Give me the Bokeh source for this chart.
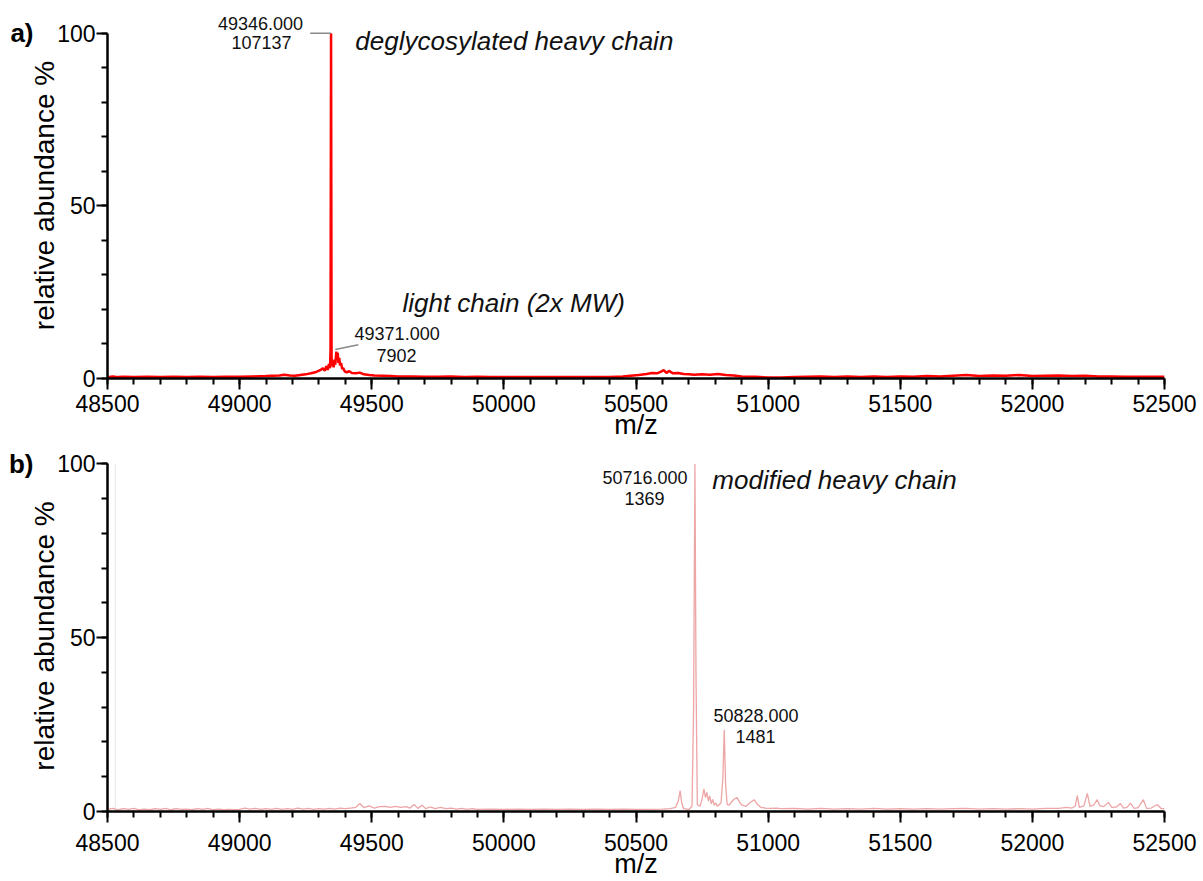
from bokeh.plotting import figure
from bokeh.models import Range1d, SingleIntervalTicker, Label, LinearAxis, FixedTicker
from bokeh.layouts import column
from bokeh.embed import file_html
from bokeh.resources import INLINE

# ---------------- data: panel a (deglycosylated heavy chain) ----------------
mz_a = [48500, 48520, 48540, 48560, 48600, 48650, 48700, 48750, 48800, 48850,
        48900, 48950, 49000, 49050, 49100, 49150, 49170, 49190, 49210, 49230,
        49250, 49270, 49290, 49305, 49315, 49322, 49328, 49333, 49338, 49342,
        49344, 49346, 49348, 49350, 49353, 49356, 49359, 49362, 49366, 49369,
        49371, 49374, 49377, 49380, 49384, 49388, 49392, 49398, 49405, 49415,
        49425, 49440, 49455, 49470, 49490, 49510, 49540, 49570, 49600, 49650,
        49700, 49750, 49800, 49850, 49900, 49950, 50000, 50050, 50100, 50150,
        50200, 50250, 50300, 50350, 50400, 50450, 50480, 50510, 50540, 50560,
        50580, 50595, 50605, 50615, 50625, 50640, 50660, 50680, 50700, 50720,
        50750, 50780, 50810, 50840, 50870, 50900, 50950, 51000, 51050, 51100,
        51150, 51200, 51250, 51300, 51350, 51400, 51450, 51500, 51550, 51600,
        51650, 51700, 51750, 51800, 51850, 51900, 51950, 52000, 52050, 52100,
        52150, 52200, 52250, 52300, 52350, 52400, 52450, 52500]
ab_a = [0.4, 0.6, 0.4, 0.5, 0.4, 0.5, 0.4, 0.5, 0.4, 0.5,
        0.4, 0.5, 0.5, 0.6, 0.7, 0.9, 1.1, 0.9, 0.8, 1.0,
        1.2, 1.5, 1.9, 2.4, 3.0, 2.2, 3.6, 2.5, 4.2, 3.0,
        8.0, 100.0, 6.0, 3.5, 5.0, 3.2, 5.5, 4.0, 7.8, 5.5,
        7.4, 4.5, 6.0, 3.8, 4.5, 2.8, 3.0, 2.0, 1.8, 2.1,
        1.6, 1.5, 1.7, 1.2, 1.0, 0.9, 0.8, 0.7, 0.6, 0.6,
        0.5, 0.5, 0.6, 0.4, 0.5, 0.4, 0.4, 0.4, 0.4, 0.4,
        0.4, 0.4, 0.4, 0.4, 0.4, 0.6, 0.8, 1.0, 1.3, 1.6,
        1.5, 2.0, 2.4, 1.6, 2.2, 1.5, 1.6, 1.3, 1.2, 1.1,
        1.2, 1.1, 1.3, 1.0, 0.9, 0.6, 0.5, 0.3, 0.3, 0.4,
        0.5, 0.6, 0.4, 0.6, 0.4, 0.6, 0.4, 0.6, 0.5, 0.7,
        0.6, 0.8, 1.0, 0.7, 0.9, 0.8, 1.0, 0.7, 0.8, 0.9,
        0.7, 0.8, 0.6, 0.6, 0.5, 0.5, 0.5, 0.5]

# ---------------- data: panel b (modified heavy chain) ----------------
mz_b = [48500, 48520, 48540, 48560, 48580, 48600, 48620, 48640, 48660, 48680,
        48700, 48720, 48740, 48760, 48780, 48800, 48820, 48840, 48860, 48880,
        48900, 48920, 48940, 48960, 48980, 49000, 49020, 49040, 49060, 49080,
        49100, 49120, 49140, 49160, 49180, 49200, 49220, 49240, 49260, 49280,
        49300, 49320, 49340, 49360, 49380, 49400, 49420, 49440, 49455, 49470,
        49490, 49510, 49530, 49550, 49570, 49590, 49610, 49630, 49645, 49660,
        49675, 49690, 49705, 49720, 49740, 49760, 49780, 49800, 49820, 49840,
        49860, 49880, 49900, 49950, 50000, 50050, 50100, 50150, 50200, 50250,
        50300, 50350, 50400, 50450, 50500, 50550, 50600, 50630, 50650, 50660,
        50667, 50673, 50680, 50700, 50712, 50718, 50723, 50727, 50732, 50742,
        50750, 50757, 50763, 50768, 50774, 50779, 50785, 50790, 50796, 50802,
        50808, 50815, 50822, 50829, 50834, 50839, 50845, 50852, 50862, 50872,
        50883, 50892, 50902, 50917, 50932, 50947, 50960, 50972, 50990, 51010,
        51030, 51050, 51100, 51150, 51200, 51250, 51300, 51350, 51400, 51450,
        51500, 51550, 51600, 51650, 51700, 51750, 51800, 51850, 51900, 51950,
        52000, 52050, 52100, 52130, 52150, 52162, 52170, 52178, 52195, 52208,
        52218, 52232, 52245, 52255, 52270, 52288, 52300, 52318, 52333, 52345,
        52358, 52371, 52385, 52400, 52420, 52432, 52450, 52473, 52488, 52500]
ab_b = [0.6, 0.9, 0.5, 0.8, 0.6, 0.9, 0.5, 0.7, 0.5, 0.8,
        0.6, 0.9, 0.5, 0.8, 0.6, 0.7, 0.5, 0.8, 0.6, 0.9,
        0.5, 0.7, 0.5, 0.6, 0.5, 0.6, 1.0, 0.7, 0.9, 0.6,
        0.8, 0.6, 0.9, 0.6, 0.8, 0.6, 1.0, 0.7, 0.9, 0.6,
        0.8, 0.7, 0.9, 0.7, 1.0, 0.8, 1.0, 1.2, 2.3, 1.1,
        1.6, 1.0, 1.4, 1.5, 1.2, 1.5, 1.2, 1.4, 1.0, 2.0,
        0.9, 1.8, 0.8, 1.3, 0.8, 1.2, 0.8, 1.0, 0.7, 0.9,
        0.6, 0.8, 0.6, 0.7, 0.6, 0.7, 0.6, 0.7, 0.6, 0.7,
        0.6, 0.7, 0.6, 0.7, 0.6, 0.6, 0.7, 0.8, 1.2, 3.0,
        6.0, 2.5, 0.8, 0.6, 1.5, 30.0, 100.0, 40.0, 2.0, 1.5,
        3.5, 6.5, 4.0, 5.5, 3.0, 4.5, 2.2, 3.5, 1.8, 2.5,
        1.5, 2.0, 2.5, 10.0, 23.5, 8.0, 2.0, 1.8, 2.8, 3.6,
        4.0, 2.6, 1.8, 1.5, 2.6, 3.4, 2.0, 1.2, 1.0, 0.9,
        1.0, 0.8, 0.9, 0.7, 0.9, 0.7, 0.8, 0.7, 0.9, 0.7,
        0.8, 0.7, 0.8, 0.7, 0.8, 0.9, 0.7, 0.8, 0.7, 0.8,
        0.7, 0.9, 0.9, 1.2, 1.0, 1.5, 4.6, 1.2, 1.6, 5.2,
        1.5, 1.8, 3.4, 1.7, 1.4, 2.6, 1.2, 1.3, 2.3, 1.0,
        1.2, 2.4, 0.9, 1.1, 3.4, 0.9, 1.0, 2.0, 0.8, 0.8]

# faint vertical trace at the left edge of panel b (scan artefact)
artefact_mz = [48530]
artefact_ab = [100]

# peak annotations: (text, m/z anchor, abundance anchor)
labels_a = [("49346.000", 49079, 102.8), ("107137", 49083, 97.25),
            ("49371.000", 49596, 13.0), ("7902", 49594, 6.66)]
labels_b = [("50716.000", 50534, 96.1), ("1369", 50532, 90.1),
            ("50828.000", 50954, 27.6), ("1481", 50952, 21.6)]
# leader lines in panel a: (mz0, ab0, mz1, ab1)
leaders_a = [(49267, 100, 49346, 100), (49362, 8.4, 49449, 9.8)]
# italic captions: (text, m/z left, abundance)
captions_a = [("deglycosylated heavy chain", 49438, 97.8),
              ("light chain (2x MW)", 49616, 22.0)]
captions_b = [("modified heavy chain", 50789, 95.5)]
panel_tags = ["a)", "b)"]

x_ticks_interval = 500
y_ticks_interval = 50
FONT = "Liberation Sans"


def make_fig(height, top, bottom, ymax, label_standoff, title_standoff, tag):
    p = figure(width=1203, height=height, output_backend="svg",
               toolbar_location=None,
               x_range=Range1d(48500, 52500), y_range=Range1d(0, ymax),
               min_border_left=107, min_border_right=39,
               min_border_top=top, min_border_bottom=bottom)
    p.outline_line_color = None
    p.xgrid.visible = False
    p.ygrid.visible = False
    p.xaxis.ticker = SingleIntervalTicker(interval=x_ticks_interval, num_minor_ticks=5)
    p.yaxis.ticker = SingleIntervalTicker(interval=y_ticks_interval, num_minor_ticks=5)
    p.yaxis.bounds = (0, 100)
    for ax in p.axis:
        ax.axis_line_width = 2.5
        ax.axis_line_color = "black"
        ax.major_tick_line_width = 2
        ax.minor_tick_line_width = 2
        ax.major_tick_line_color = "black"
        ax.minor_tick_line_color = "black"
        ax.major_tick_in = 0
        ax.minor_tick_in = 0
        ax.major_tick_out = 11
        ax.minor_tick_out = 6
        ax.major_label_text_font = FONT
        ax.major_label_text_font_size = "23px"
        ax.major_label_text_color = "black"
        ax.axis_label_text_font = FONT
        ax.axis_label_text_font_style = "normal"
        ax.axis_label_text_color = "black"
    p.xaxis.axis_label = "m/z"
    p.xaxis.axis_label_text_font_size = "27px"
    p.yaxis.axis_label = "relative abundance %"
    p.yaxis.axis_label_text_font_size = "28px"
    p.xaxis.major_label_standoff = label_standoff
    p.xaxis.axis_label_standoff = title_standoff
    p.yaxis.major_label_standoff = 1
    p.yaxis.axis_label_standoff = -6
    # panel tag ("a)" / "b)") as the label of an outer, line-less axis
    tag_axis = LinearAxis(ticker=FixedTicker(ticks=[100]),
                          major_label_overrides={100: tag},
                          axis_line_color=None, major_tick_line_color=None,
                          minor_tick_line_color=None, major_tick_out=0,
                          major_tick_in=0, major_label_standoff=-7,
                          major_label_text_font=FONT,
                          major_label_text_font_size="26px",
                          major_label_text_font_style="bold",
                          major_label_text_color="black")
    p.add_layout(tag_axis, "left")
    return p


def add_text(p, items, size, style, align):
    for txt, x, y in items:
        p.add_layout(Label(x=x, y=y, text=txt, text_font=FONT,
                           text_font_size=size, text_font_style=style,
                           text_align=align, text_baseline="middle",
                           text_color="#111111"))


# ---------------- panel a ----------------
pa = make_fig(446, 12, 68, 106, 5, -5, panel_tags[0])
pa.line(mz_a, ab_a, line_color="#ff0000", line_width=2.5)
for x0, y0, x1, y1 in leaders_a:
    pa.segment(x0=[x0], y0=[y0], x1=[x1], y1=[y1], line_color="#8a8a8a", line_width=1.5)
add_text(pa, labels_a, "18px", "normal", "center")
add_text(pa, captions_a, "26px", "italic", "left")

# ---------------- panel b ----------------
pb = make_fig(435, 14, 70, 101, 11, -5, panel_tags[1])
pb.segment(x0=artefact_mz, y0=[0], x1=artefact_mz, y1=artefact_ab,
           line_color="#ececec", line_width=1.5)
pb.line(mz_b, ab_b, line_color="#eda5a5", line_width=1.3)
add_text(pb, labels_b, "18px", "normal", "center")
add_text(pb, captions_b, "26px", "italic", "left")

layout = column(pa, pb, spacing=0)
open("out.html", "w").write(file_html(layout, INLINE))
